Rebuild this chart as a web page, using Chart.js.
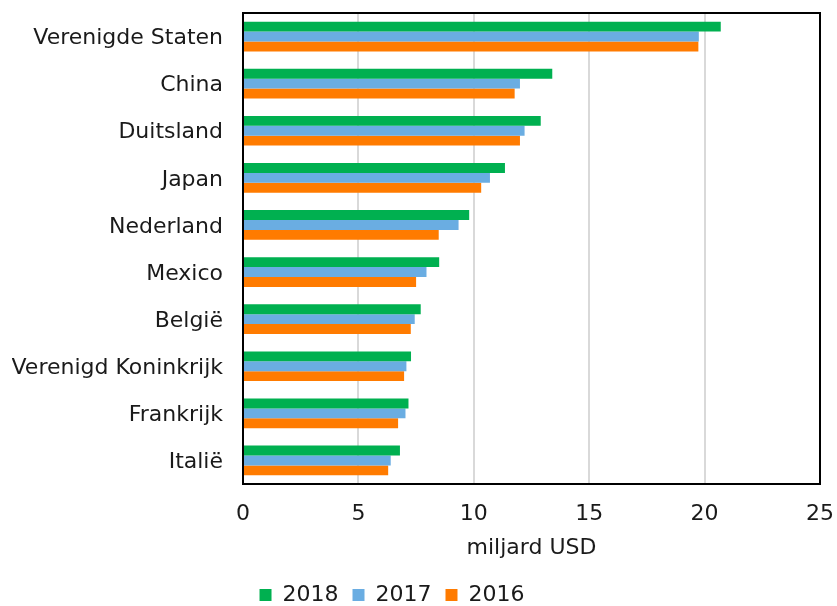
<!DOCTYPE html>
<html>
<head>
<meta charset="utf-8">
<script src="https://cdn.jsdelivr.net/npm/chart.js@4"></script>
<style>
  html, body { margin: 0; padding: 0; background: #fff; }
  #wrap { width: 837px; height: 606px; }
</style>
</head>
<body>
<div id="wrap"><canvas id="myBars"></canvas></div>
<script>
const countries = ["Verenigde Staten", "China", "Duitsland", "Japan", "Nederland",
                   "Mexico", "België", "Verenigd Koninkrijk", "Frankrijk", "Italië"];
const years = ["2018", "2017", "2016"];
const values2018 = [20.7, 13.4, 12.9, 11.35, 9.8, 8.5, 7.7, 7.28, 7.17, 6.8];
const values2017 = [19.75, 12.0, 12.2, 10.7, 9.34, 7.95, 7.44, 7.08, 7.04, 6.4];
const values2016 = [19.73, 11.77, 12.0, 10.32, 8.48, 7.5, 7.27, 6.98, 6.72, 6.29];
const xTicks = [0, 5, 10, 15, 20, 25];

const colors = ["#00B050", "#6AADE2", "#FF7B00"];
const font = { family: "'DejaVu Sans', Verdana, sans-serif", size: 22 };

// black box around the plot area, like the original
const frame = {
    id: "frame",
    afterDraw(chart) {
        const a = chart.chartArea, ctx = chart.ctx;
        ctx.save();
        ctx.strokeStyle = "#000";
        ctx.lineWidth = 2;
        ctx.strokeRect(a.left, a.top, a.right - a.left, a.bottom - a.top);
        ctx.restore();
    }
};

// legend sits a bit left of the middle and lower in the original
const shiftLegend = {
    id: "shiftLegend",
    afterLayout(chart) {
        const lg = chart.legend;
        lg.left -= 24;
        lg.right -= 24;
        lg.top += 10;
        lg.bottom += 10;
    }
};

new Chart(document.getElementById("myBars"), {
    type: "bar",
    data: {
        labels: countries,
        datasets: [values2018, values2017, values2016].map((vals, i) => ({
            label: years[i],
            data: vals,
            backgroundColor: colors[i],
            borderWidth: 0,
            barPercentage: 1,
            categoryPercentage: 0.63
        }))
    },
    options: {
        indexAxis: "y",
        responsive: true,
        maintainAspectRatio: false,
        animation: false,
        layout: { padding: { top: 13, right: 17, bottom: 0, left: 12 } },
        scales: {
            x: {
                min: 0,
                max: 25,
                afterBuildTicks(axis) { axis.ticks = xTicks.map(v => ({ value: v })); },
                afterFit(axis) { axis.paddingLeft = 0; axis.paddingRight = 0; axis.height = 76; },
                grid: { color: "#D9D9D9", lineWidth: 2, drawTicks: false },
                border: { display: false },
                ticks: { font: font, color: "#1a1a1a", padding: 17 },
                title: { display: true, text: "miljard USD", font: font, color: "#1a1a1a", padding: { top: 0, bottom: -1 } }
            },
            y: {
                afterFit(axis) { axis.paddingTop = 0; axis.paddingBottom = 0; axis.width = 231; },
                grid: { display: false, drawTicks: false },
                border: { display: false },
                ticks: { font: font, color: "#1a1a1a", padding: 20, labelOffset: 2 }
            }
        },
        plugins: {
            legend: {
                position: "bottom",
                labels: { font: font, color: "#1a1a1a", boxWidth: 12, boxHeight: 12, padding: 14 }
            },
            tooltip: { enabled: false }
        }
    },
    plugins: [frame, shiftLegend]
});
</script>
</body>
</html>
